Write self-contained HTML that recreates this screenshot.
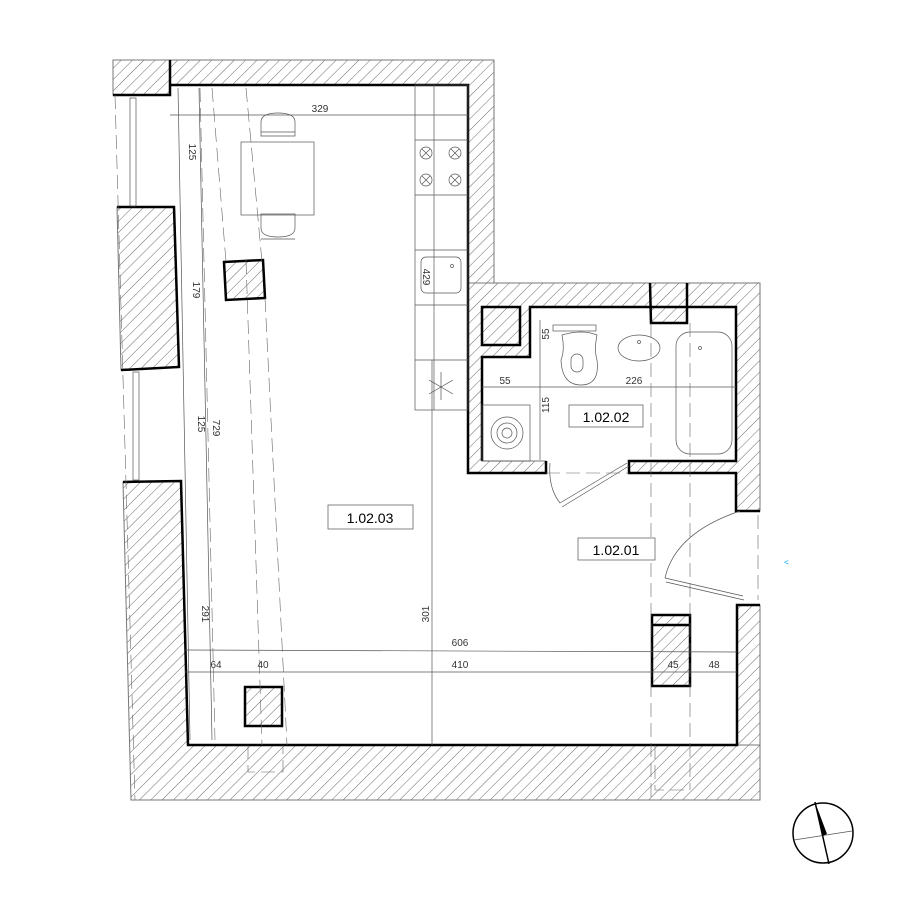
<!DOCTYPE html>
<html><head><meta charset="utf-8"><style>html,body{margin:0;padding:0;background:#fff}svg{display:block}text{font-family:"Liberation Sans",sans-serif}</style></head><body>
<svg width="900" height="900" viewBox="0 0 900 900" xmlns="http://www.w3.org/2000/svg">
<defs>
<pattern id="h" patternUnits="userSpaceOnUse" width="8" height="8" patternTransform="rotate(45)">
<rect width="8" height="8" fill="#fff"/><line x1="0" y1="0" x2="0" y2="8" stroke="#444" stroke-width="0.8"/>
</pattern>
</defs>
<rect width="900" height="900" fill="#fff"/>
<g fill="url(#h)" stroke="#777" stroke-width="1">
<polygon points="113,60 170,60 170,95 113,95"/>
<polygon points="170,60 494,60 494,283 468,283 468,85 170,85"/>
<polygon points="468,283 760,283 760,511 736,511 736,473 629,473 629,461 736,461 736,307 530,307 530,357 482,357 482,461 546,461 546,473 468,473"/>
<polygon points="737,605 760,605 760,745 737,745"/>
<polygon points="117,207 174,207 179,367 121,370"/>
<polygon points="123,482 181,481 188,745 760,745 760,800 131,800"/>
<polygon points="650,283 687,283 687,323 651,323"/>
<polygon points="224,262 263,260 265,298 226,300"/>
<polygon points="245,687 282,687 282,726 245,726"/>
<polygon points="652,615 690,615 690,686 652,686"/>
</g>
<g fill="none" stroke="#000" stroke-width="2.5">
<polyline points="170,60 170,95 113,95"/>
<polyline points="170,85 468,85 468,473 546,473 546,461"/>
<polyline points="482,461 482,357 530,357 530,307 736,307 736,461 629,461 629,473 736,473 736,511 760,511"/>
<rect x="482" y="307" width="38" height="38"/>
<polyline points="650,283 651,323 687,323 687,283"/>
<polyline points="117,207 174,207 179,367 121,370"/>
<polyline points="123,482 181,481 188,745 737,745 737,605 760,605"/>
<polygon points="224,262 263,260 265,298 226,300"/>
<rect x="245" y="687" width="37" height="39"/>
<rect x="652" y="615" width="38" height="71"/>
<line x1="652" y1="625" x2="690" y2="625"/>
</g>
<g fill="none" stroke="#555" stroke-width="0.7">
<rect x="415" y="85" width="53" height="325"/>
<line x1="434" y1="85" x2="434" y2="410"/>
<line x1="415" y1="140" x2="468" y2="140"/>
<line x1="415" y1="195" x2="468" y2="195"/>
<line x1="415" y1="250" x2="468" y2="250"/>
<line x1="415" y1="305" x2="468" y2="305"/>
<line x1="415" y1="360" x2="468" y2="360"/>
<g><circle cx="426" cy="153" r="6"/><circle cx="455" cy="153" r="6"/><circle cx="426" cy="180" r="6"/><circle cx="455" cy="180" r="6"/>
<path d="M422 149l8 8M430 149l-8 8M451 149l8 8M459 149l-8 8M422 176l8 8M430 176l-8 8M451 176l8 8M459 176l-8 8"/></g>
<rect x="421" y="257" width="40" height="36" rx="5"/><circle cx="452" cy="266" r="1.5"/>
<path d="M441 372v28M429 380l24 14M429 394l24-14"/>
<rect x="241" y="142" width="73" height="73"/>
<path d="M261 136v-14q0-9 17-9q17 0 17 9v14z M261 132h34"/>
<path d="M261 214v14q0 9 17 9q17 0 17-9v-14z M261 239h34"/>
<rect x="130" y="98" width="6" height="108"/><rect x="133" y="372" width="6" height="108"/>
<rect x="553" y="325" width="43" height="6"/>
<path d="M562 335q20-6 35 0q-3 15 0 25q3 25-16 25q-19 0-20-25q4-10 1-25z"/>
<rect x="571" y="354" width="12" height="18" rx="6"/>
<ellipse cx="639" cy="348" rx="21" ry="13"/><circle cx="639" cy="342" r="1.5"/>
<rect x="676" y="332" width="56" height="122" rx="14"/><circle cx="700" cy="348" r="1.5"/>
<rect x="482" y="405" width="48" height="56"/>
<circle cx="507" cy="433" r="16"/><circle cx="507" cy="433" r="10"/><circle cx="507" cy="433" r="5"/>
<path d="M550 463q-2 25 10 40 M560 503l67-40 M562 507l67-41"/>
<path d="M665 578q10-45 75-67 M665 578l78 18 M666 582l78 18"/>
<line x1="170" y1="115" x2="468" y2="115"/>
<line x1="178" y1="88" x2="190" y2="740"/>
<line x1="199" y1="88" x2="212" y2="740"/>
<line x1="432" y1="360" x2="432" y2="745"/>
<line x1="185" y1="650" x2="737" y2="652"/>
<line x1="185" y1="672" x2="737" y2="672"/>
<line x1="482" y1="387" x2="736" y2="387"/>
<line x1="540" y1="320" x2="540" y2="460"/>
</g>
<g fill="none" stroke="#666" stroke-width="0.6" stroke-dasharray="14,6">
<line x1="115" y1="95" x2="135" y2="800"/>
<line x1="200" y1="88" x2="215" y2="740"/>
<line x1="246" y1="260" x2="262" y2="745"/>
<line x1="265" y1="298" x2="287" y2="745"/>
<line x1="212" y1="88" x2="226" y2="262"/>
<line x1="246" y1="88" x2="262" y2="262"/>
<line x1="651" y1="323" x2="651" y2="800"/>
<line x1="690" y1="323" x2="690" y2="790"/>
<line x1="758" y1="515" x2="758" y2="600"/>
<line x1="546" y1="473" x2="629" y2="473"/>
<polyline points="248,745 248,772 283,772 283,745"/>
<polyline points="655,745 655,790 690,790"/>
</g>
<g font-size="10" fill="#333" text-anchor="middle">
<text x="320" y="112">329</text>
<text x="460" y="646">606</text>
<text x="460" y="668">410</text>
<text x="216" y="668">64</text>
<text x="263" y="668">40</text>
<text x="673" y="668">45</text>
<text x="714" y="668">48</text>
<text x="505" y="384">55</text>
<text x="634" y="384">226</text>
<text transform="translate(189,152) rotate(90)">125</text>
<text transform="translate(193,290) rotate(90)">179</text>
<text transform="translate(198,424) rotate(90)">125</text>
<text transform="translate(213,428) rotate(90)">729</text>
<text transform="translate(202,614) rotate(90)">291</text>
<text transform="translate(429,614) rotate(-90)">301</text>
<text transform="translate(549,405) rotate(-90)">115</text>
<text transform="translate(549,334) rotate(-90)">55</text>
<text transform="translate(423,277) rotate(90)">429</text>
</g>
<g fill="#fff" stroke="#666" stroke-width="0.8">
<rect x="328" y="505" width="85" height="24"/>
<rect x="569" y="405" width="74" height="22"/>
<rect x="578" y="538" width="77" height="22"/>
</g>
<g font-size="14" fill="#000" text-anchor="middle">
<text x="370" y="523">1.02.03</text>
<text x="606" y="422">1.02.02</text>
<text x="616" y="555">1.02.01</text>
</g>
<text x="784" y="565" font-size="8" fill="#0af">&lt;</text>
<circle cx="823" cy="833" r="30" fill="none" stroke="#000" stroke-width="1.5"/>
<line x1="794" y1="840" x2="852" y2="831" stroke="#555" stroke-width="0.8"/>
<line x1="815" y1="802" x2="829" y2="864" stroke="#000" stroke-width="1.5"/>
<polygon points="815,802 827,834 822,836" fill="#000"/>
</svg>
</body></html>
